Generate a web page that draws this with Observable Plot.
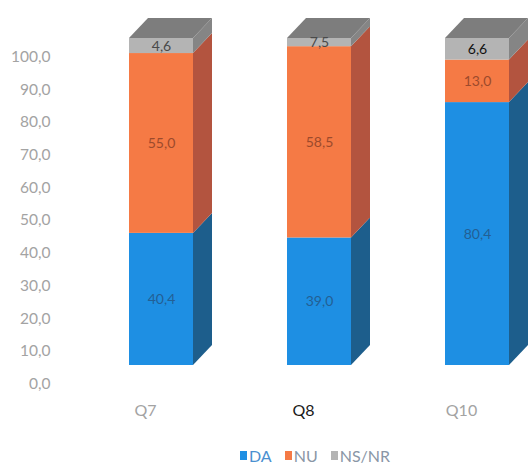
<!DOCTYPE html>
<html>
<head>
<meta charset="utf-8">
<script src="https://cdn.jsdelivr.net/npm/d3@7"></script>
<script src="https://cdn.jsdelivr.net/npm/@observablehq/plot@0.6"></script>
<style>
  body { margin: 0; background: #fff; }
  #legend { display: flex; align-items: center; height: 30px; padding-left: 240px; font-family: Lato, sans-serif; font-size: 16px; color: #8a96a6; }
  #legend span.sw { display: inline-block; width: 7px; height: 9px; margin-right: 2px; }
  #legend span.it { margin-right: 13px; display: flex; align-items: center; }
</style>
</head>
<body>
<div id="chart"></div>
<div id="legend"></div>
<script>
const categories = ["Q7", "Q8", "Q10"];
const series = ["DA", "NU", "NS/NR"];
const DA = [40.4, 39.0, 80.4];
const NU = [55.0, 58.5, 13.0];
const NSNR = [4.6, 7.5, 6.6];
const yTicks = [0, 10, 20, 30, 40, 50, 60, 70, 80, 90, 100];
const yMax = 100;

const frontColors = ["#1e8fe3", "#f57a45", "#b4b4b4"];
const sideColors = {"#1e8fe3": "#1d5e8c", "#f57a45": "#b3543f", "#b4b4b4": "#858585"};
const topColor = "#7d7d7d";
const labelColors = {"DA": "#235f94", "NU": "#9c4a2c", "NS/NR": "#4a4a4a"};

const data = [];
categories.forEach((q, i) => {
  const vals = [DA[i], NU[i], NSNR[i]];
  let lo = 0;
  series.forEach((s, j) => {
    const hi = lo + vals[j];
    data.push({q, s, v: vals[j], mid: (Math.min(lo, yMax) + Math.min(hi, yMax)) / 2});
    lo = hi;
  });
});

const fmt = v => v.toFixed(1).replace(".", ",");
const D = 19, E = 20; // 3D depth offsets

function render3d(index, scales, values, dimensions, context, next) {
  const g = next(index, scales, values, dimensions, context);
  const ns = "http://www.w3.org/2000/svg";
  const w = scales.x.bandwidth();
  const extra = document.createElementNS(ns, "g");
  for (const i of index) {
    const X = values.x[i];
    const top = Math.min(values.y1[i], values.y2[i]);
    const bot = Math.max(values.y1[i], values.y2[i]);
    const fill = values.fill[i];
    const side = document.createElementNS(ns, "polygon");
    side.setAttribute("points", `${X+w},${top} ${X+w+D},${top-E} ${X+w+D},${bot-E} ${X+w},${bot}`);
    side.setAttribute("fill", sideColors[fill] || fill);
    extra.appendChild(side);
    if (data[i].s === "NS/NR") {
      const tp = document.createElementNS(ns, "polygon");
      tp.setAttribute("points", `${X},${top} ${X+D},${top-E} ${X+w+D},${top-E} ${X+w},${top}`);
      tp.setAttribute("fill", topColor);
      extra.appendChild(tp);
    }
  }
  g.appendChild(extra);
  return g;
}

const font = `Lato, sans-serif`;

const chart = Plot.plot({
  width: 529,
  height: 440,
  marginLeft: 52,
  marginTop: 38,
  marginBottom: 75,
  marginRight: 0,
  style: {fontFamily: font, background: "#fff"},
  x: {domain: categories, range: [129, 509], paddingInner: 0.595, paddingOuter: 0, axis: null},
  y: {domain: [0, yMax], range: [365, 38], clamp: true, axis: null},
  color: {domain: series, range: frontColors},
  marks: [
    Plot.axisY(yTicks, {
      tickSize: 0, tickPadding: 2, dy: 18.5, fontSize: 15.5, fill: "#a3a3a3",
      tickFormat: d => fmt(d), label: null
    }),
    Plot.barY(data, Plot.stackY({
      x: "q", y: "v", fill: "s", render: render3d
    })),
    Plot.text(data, {
      x: "q", y: "mid", text: d => fmt(d.v), fontSize: 14,
      fill: d => (d.q === "Q10" && d.s === "NS/NR") ? "#111" : labelColors[d.s],
      fontWeight: d => (d.q === "Q10" && d.s === "NS/NR") ? "bold" : "normal"
    }),
    Plot.text(categories, {
      x: d => d, y: () => 0, dy: 45, dx: -16, text: d => d, fontSize: 16,
      fill: d => d === "Q8" ? "#1a1a1a" : "#a3a3a3"
    })
  ]
});
document.getElementById("chart").appendChild(chart);

const legend = document.getElementById("legend");
series.forEach((s, i) => {
  const it = document.createElement("span");
  it.className = "it";
  const sw = document.createElement("span");
  sw.className = "sw";
  sw.style.background = frontColors[i];
  it.appendChild(sw);
  const t = document.createElement("span");
  t.textContent = s;
  if (s === "DA") t.style.color = "#4a90d0";
  it.appendChild(t);
  legend.appendChild(it);
});
</script>
</body>
</html>
